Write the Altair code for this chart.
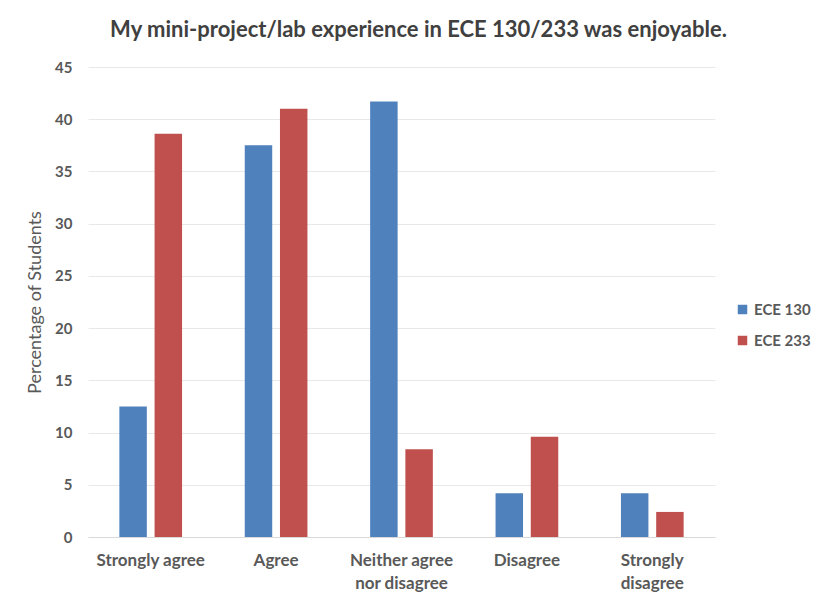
import altair as alt
import pandas as pd

# Survey responses, percentage of students per answer
responses = ["Strongly agree", "Agree", "Neither agree nor disagree", "Disagree", "Strongly disagree"]
courses = ["ECE 130", "ECE 233"]
ece130 = [12.5, 37.5, 41.7, 4.2, 4.2]
ece233 = [38.6, 41.0, 8.4, 9.6, 2.4]

rows = []
for i, r in enumerate(responses):
    rows.append({"response": r, "course": courses[0], "pct": ece130[i]})
    rows.append({"response": r, "course": courses[1], "pct": ece233[i]})
df = pd.DataFrame(rows)

FONT = "Lato"
GRAY = "#595959"

label_expr = (
    "datum.value == 'Neither agree nor disagree' ? ['Neither agree', 'nor disagree'] : "
    "datum.value == 'Strongly disagree' ? ['Strongly', 'disagree'] : datum.value"
)

chart = (
    alt.Chart(df)
    .mark_bar()
    .encode(
        x=alt.X(
            "response:N",
            sort=responses,
            title=None,
            scale=alt.Scale(paddingInner=0.5, paddingOuter=0.25),
            axis=alt.Axis(
                labelAngle=0,
                labelExpr=label_expr,
                labelFont=FONT,
                labelFontSize=17,
                labelFontWeight="bold",
                labelColor=GRAY,
                labelPadding=15,
                labelLineHeight=23,
                ticks=False,
                grid=False,
                domainColor="#D9D9D9",
                domainWidth=1,
            ),
        ),
        xOffset=alt.XOffset("course:N", sort=courses, scale=alt.Scale(paddingInner=0.22)),
        y=alt.Y(
            "pct:Q",
            title="Percentage of Students",
            scale=alt.Scale(domain=[0, 45]),
            axis=alt.Axis(
                values=list(range(0, 50, 5)),
                labelFont=FONT,
                labelFontSize=15,
                labelFontWeight="bold",
                labelColor=GRAY,
                labelPadding=16,
                ticks=False,
                domain=False,
                gridColor="#E8E8E8",
                titleFont=FONT,
                titleFontSize=18,
                titleFontWeight="normal",
                titleColor=GRAY,
                titlePadding=10,
            ),
        ),
        color=alt.Color(
            "course:N",
            sort=courses,
            scale=alt.Scale(domain=courses, range=["#4F81BD", "#C0504D"]),
            legend=alt.Legend(
                title=None,
                orient="none",
                legendX=647,
                legendY=235,
                symbolType="square",
                symbolSize=90,
                labelFont=FONT,
                labelFontSize=15,
                labelFontWeight="bold",
                labelColor=GRAY,
                rowPadding=15,
            ),
        ),
    )
    .properties(
        width=627,
        height=470,
        title=alt.TitleParams(
            "My mini-project/lab experience in ECE 130/233 was enjoyable.",
            font=FONT,
            fontSize=22,
            fontWeight="bold",
            color="#404040",
            anchor="middle",
            dx=17,
            offset=18,
        ),
        autosize=alt.AutoSizeParams(type="none"),
        padding={"left": 88, "top": 67, "right": 102, "bottom": 59},
    )
    .configure(background="white")
    .configure_view(stroke=None)
)

chart.save("out.html", embed_options={"renderer": "svg", "actions": False})
